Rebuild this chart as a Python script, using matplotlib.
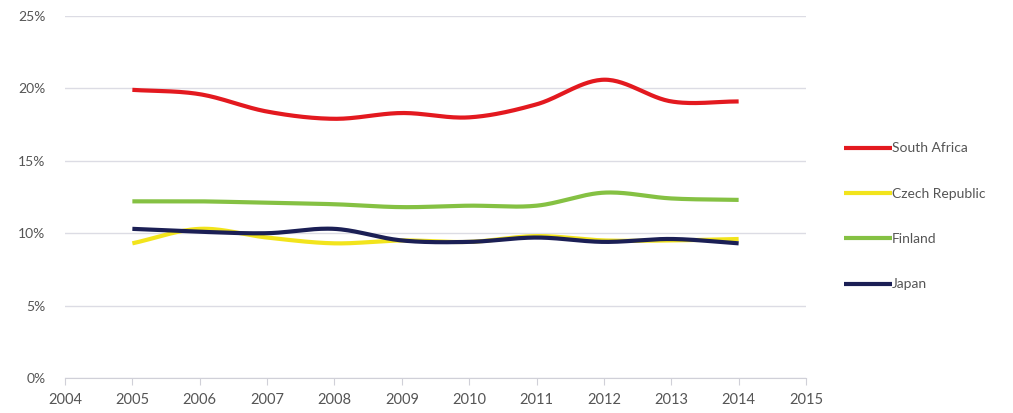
import numpy as np
import matplotlib
matplotlib.use("Agg")
import matplotlib.pyplot as plt
from matplotlib.ticker import FuncFormatter

years = [2005, 2006, 2007, 2008, 2009, 2010, 2011, 2012, 2013, 2014]
south_africa = [19.9, 19.6, 18.4, 17.9, 18.3, 18.0, 18.9, 20.6, 19.1, 19.1]
czech_republic = [9.3, 10.3, 9.7, 9.3, 9.5, 9.4, 9.8, 9.5, 9.5, 9.6]
finland = [12.2, 12.2, 12.1, 12.0, 11.8, 11.9, 11.9, 12.8, 12.4, 12.3]
japan = [10.3, 10.1, 10.0, 10.3, 9.5, 9.4, 9.7, 9.4, 9.6, 9.3]

series = [
    ("South Africa", south_africa, "#e3191f"),
    ("Czech Republic", czech_republic, "#f2e41c"),
    ("Finland", finland, "#85c143"),
    ("Japan", japan, "#1b1f55"),
]


def smooth(x, y, n=30):
    """Catmull-Rom curve through the points, like a spreadsheet's smoothed line."""
    x = np.asarray(x, float)
    y = np.asarray(y, float)
    px = np.concatenate([[2 * x[0] - x[1]], x, [2 * x[-1] - x[-2]]])
    py = np.concatenate([[2 * y[0] - y[1]], y, [2 * y[-1] - y[-2]]])
    xs, ys = [], []
    t = np.linspace(0, 1, n, endpoint=False)
    for i in range(1, len(px) - 2):
        for arr, out in ((px, xs), (py, ys)):
            p0, p1, p2, p3 = arr[i - 1], arr[i], arr[i + 1], arr[i + 2]
            out.append(0.5 * (2 * p1 + (-p0 + p2) * t
                              + (2 * p0 - 5 * p1 + 4 * p2 - p3) * t ** 2
                              + (-p0 + 3 * p1 - 3 * p2 + p3) * t ** 3))
    xs = np.concatenate(xs + [[x[-1]]])
    ys = np.concatenate(ys + [[y[-1]]])
    return xs, ys


plt.rcParams["font.family"] = ["Lato", "DejaVu Sans"]
text_color = "#555555"

fig = plt.figure(figsize=(10.13, 4.13), dpi=100)
ax = fig.add_axes([65 / 1013, 1 - 378 / 413, (806 - 65) / 1013, (378 - 16) / 413])

for name, vals, color in series:
    sx, sy = smooth(years, vals)
    ax.plot(sx, sy, color=color, lw=3.0, label=name, solid_capstyle="butt")

ax.set_xlim(2004, 2015)
ax.set_ylim(0, 25)
ax.set_xticks(range(2004, 2016))
ax.set_yticks(range(0, 26, 5))
ax.yaxis.set_major_formatter(FuncFormatter(lambda v, p: f"{v:.0f}%"))
ax.grid(axis="y", color="#dcdce4", lw=1.0)
ax.set_axisbelow(True)
for side in ("top", "right", "left"):
    ax.spines[side].set_visible(False)
ax.spines["bottom"].set_color("#d0d0d8")
ax.tick_params(axis="y", length=0, pad=14, labelsize=10, labelcolor=text_color)
ax.tick_params(axis="x", length=5, color="#d0d0d8", direction="out", pad=6,
               labelsize=10.5, labelcolor=text_color)

leg = fig.legend(loc="upper left", bbox_to_anchor=(831 / 1013, 1 - 130 / 413),
                 frameon=False, handlelength=3.5, handletextpad=0.0,
                 labelspacing=2.4, fontsize=10)
for t in leg.get_texts():
    t.set_color(text_color)

fig.savefig("out.png", dpi=100, facecolor="white")
